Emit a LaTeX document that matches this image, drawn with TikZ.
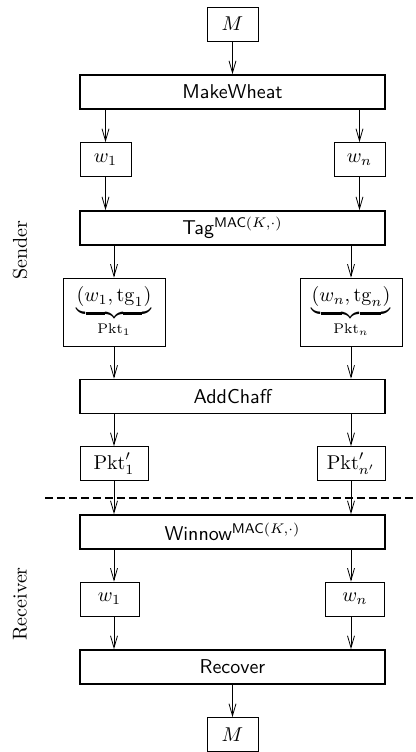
\documentclass[tikz,border=0pt]{standalone}
\usepackage{amsmath}
\usetikzlibrary{arrows.meta}
\tikzset{every picture/.style={line width=0.4pt}}
\tikzset{
  stage/.style={draw, line width=0.8pt, minimum width=152.5pt,
                minimum height=17pt, inner sep=0pt, font=\sffamily},
  cell/.style={draw, minimum width=#1, minimum height=17pt,
               inner sep=0pt},
  cell/.default={25.5pt}, % width of the small boxes
  flow/.style={-{Straight Barb[length=6pt,width=3.5pt]}},
}

\begin{document}
\begin{tikzpicture}
  \useasboundingbox (0,0) rectangle (208pt,-376pt);
  % sender side
  \node[cell] (m) at (116.25pt,-12pt) {$M$};
  \node[stage] (mw) at (116.25pt,-46pt) {MakeWheat};
  \node[cell] (w1) at (52.75pt,-79.75pt) {$w_1$};
  \node[cell] (wn) at (179.75pt,-79.75pt) {$w_n$};
  \node[stage] (tag) at (116.25pt,-114pt) {Tag$^{\textsf{MAC}(K,\cdot)}$};
  \node[cell=51pt, minimum height=34pt] (pk1) at (57pt,-156pt)
    {$\underbrace{(w_1,\mathrm{tg}_1)}_{\mathrm{Pkt}_1}$};
  \node[cell=51pt, minimum height=34pt] (pkn) at (175.5pt,-156pt)
    {$\underbrace{(w_n,\mathrm{tg}_n)}_{\mathrm{Pkt}_n}$};
  \node[stage] (chaff) at (116.25pt,-198.25pt) {AddChaff};
  \node[cell=34pt] (pp1) at (57pt,-231.75pt) {$\mathrm{Pkt}'_1$};
  \node[cell=34pt] (ppn) at (175.5pt,-231.75pt) {$\mathrm{Pkt}'_{n'}$};
  % channel
  \coordinate (cutl) at (22.5pt,-249pt);
  \coordinate (cutr) at (208pt,-249pt);
  \draw[line width=0.8pt, dash pattern=on 4pt off 2pt] (cutl) -- (cutr);
  % receiver side
  \node[stage] (win) at (116.25pt,-266pt) {Winnow$^{\textsf{MAC}(K,\cdot)}$};
  \node[cell=29.5pt] (rw1) at (54.75pt,-299.5pt) {$w_1$};
  \node[cell=29.5pt] (rwn) at (177.5pt,-299.5pt) {$w_n$};
  \node[stage] (rec) at (116.25pt,-333.5pt) {Recover};
  \node[cell] (mout) at (116.25pt,-367.25pt) {$M$};
  % side labels
  \node[rotate=90] (snd) at (10pt,-125pt) {Sender};
  \node[rotate=90] (rcv) at (10pt,-302pt) {Receiver};
  % connect boxes
  \draw[flow] (m) -- (mw);
  \draw[flow] (mw.south -| w1) -- (w1);
  \draw[flow] (mw.south -| wn) -- (wn);
  \draw[flow] (w1) -- (tag.north -| w1);
  \draw[flow] (wn) -- (tag.north -| wn);
  \draw[flow] (tag.south -| pk1) -- (pk1);
  \draw[flow] (tag.south -| pkn) -- (pkn);
  \draw[flow] (pk1) -- (chaff.north -| pk1);
  \draw[flow] (pkn) -- (chaff.north -| pkn);
  \draw[flow] (chaff.south -| pp1) -- (pp1);
  \draw[flow] (chaff.south -| ppn) -- (ppn);
  \draw[flow] (pp1) -- (win.north -| pp1);
  \draw[flow] (ppn) -- (win.north -| ppn);
  \draw[flow] (win.south -| pp1) -- (rw1.north -| pp1);
  \draw[flow] (win.south -| ppn) -- (rwn.north -| ppn);
  \draw[flow] (rw1.south -| pp1) -- (rec.north -| pp1);
  \draw[flow] (rwn.south -| ppn) -- (rec.north -| ppn);
  \draw[flow] (rec) -- (mout);
\end{tikzpicture}
\end{document}
